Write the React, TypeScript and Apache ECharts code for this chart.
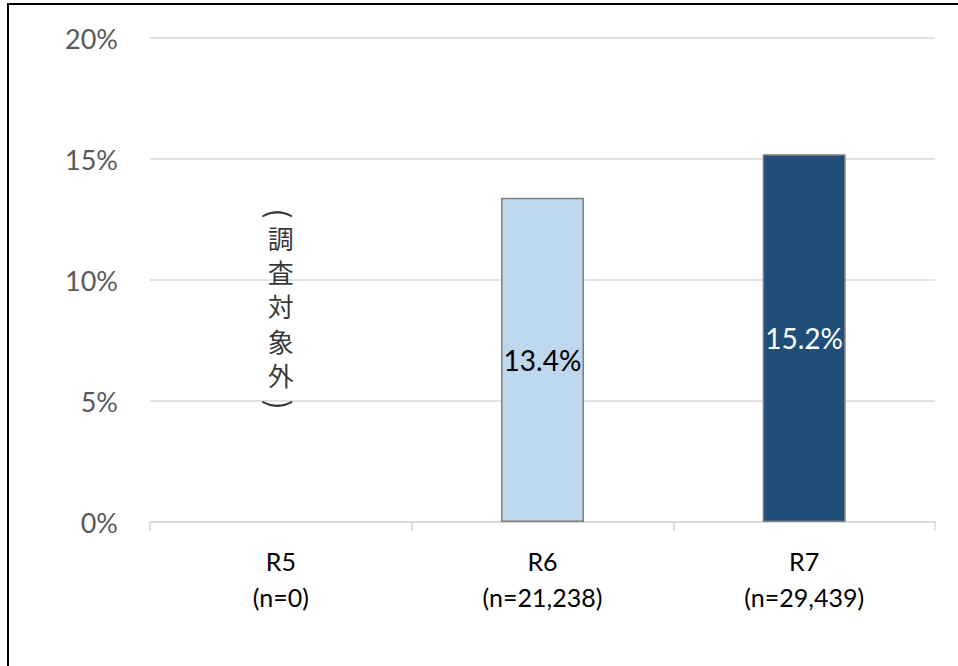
import React, { useEffect, useRef } from "react";
import * as echarts from "echarts";

const categories = ["R5\n(n=0)", "R6\n(n=21,238)", "R7\n(n=29,439)"];
const rates = [null, 13.4, 15.2];
const barColors = ["#BDD7EE", "#BDD7EE", "#1F4E79"];
const labelColors = ["#000000", "#000000", "#FFFFFF"];
const yTicks = [0, 5, 10, 15, 20];
const noteChars = ["調", "査", "対", "象", "外"];
// anchor values of the vertical note "（調査対象外）" in the R5 slot
const noteOpenAt = 12.75;
const noteBodyAt = 8.93;
const noteCloseAt = 4.85;

export default function App() {
  const ref = useRef<HTMLDivElement>(null);

  useEffect(() => {
    if (!ref.current) return;
    const chart = echarts.init(ref.current, null, { renderer: "svg" });
    const font = "Lato, 'Noto Sans', sans-serif";
    const cjk = "'Noto Sans CJK JP', sans-serif";
    const noteLabel = {
      show: true,
      position: "inside",
      color: "#000000",
      fontFamily: cjk,
      align: "center",
      verticalAlign: "middle",
    };
    chart.setOption({
      animation: false,
      backgroundColor: "transparent",
      grid: { left: 150, right: 23, top: 38, bottom: 144, containLabel: false },
      xAxis: {
        type: "category",
        data: categories,
        axisLine: { lineStyle: { color: "#D9D9D9", width: 1.5 } },
        axisTick: { show: true, length: 9, lineStyle: { color: "#D9D9D9", width: 1.5 } },
        axisLabel: {
          color: "#000000",
          fontSize: 25,
          fontFamily: font,
          lineHeight: 36,
          margin: 21,
        },
      },
      yAxis: {
        type: "value",
        min: yTicks[0],
        max: yTicks[yTicks.length - 1],
        interval: 5,
        axisLine: { show: false },
        axisTick: { show: false },
        splitLine: { lineStyle: { color: "#D9D9D9", width: 1.5 } },
        axisLabel: {
          color: "#595959",
          fontSize: 27,
          fontFamily: font,
          margin: 32,
          formatter: (v: number) => `${v}%`,
        },
      },
      series: [
        {
          type: "bar",
          barWidth: 83,
          data: rates.map((v, i) => ({
            value: v,
            itemStyle: { color: barColors[i], borderColor: "#7F7F7F", borderWidth: 1.5 },
            label: { color: labelColors[i] },
          })),
          label: {
            show: true,
            position: "inside",
            fontSize: 28,
            fontFamily: font,
            formatter: (p: any) => (p.value == null ? "" : `${p.value.toFixed(1)}%`),
          },
        },
        {
          type: "scatter",
          symbolSize: 0,
          silent: true,
          data: [
            {
              value: [categories[0], noteOpenAt],
              label: { ...noteLabel, formatter: "(", fontSize: 30, rotate: -90 },
            },
            {
              value: [categories[0], noteBodyAt],
              label: { ...noteLabel, formatter: noteChars.join("\n"), fontSize: 26, lineHeight: 34.4 },
            },
            {
              value: [categories[0], noteCloseAt],
              label: { ...noteLabel, formatter: ")", fontSize: 30, rotate: -90 },
            },
          ],
        },
      ],
    });
    return () => chart.dispose();
  }, []);

  return (
    <div
      style={{
        position: "fixed",
        left: 0,
        top: 0,
        width: 958,
        height: 666,
        overflow: "hidden",
        background: "#FFFFFF",
      }}
    >
      <div
        style={{
          position: "absolute",
          left: 7,
          top: 3,
          width: 1000,
          height: 720,
          border: "2px solid #000000",
          boxSizing: "border-box",
        }}
      />
      <div ref={ref} style={{ position: "absolute", left: 0, top: 0, width: 958, height: 666 }} />
    </div>
  );
}
